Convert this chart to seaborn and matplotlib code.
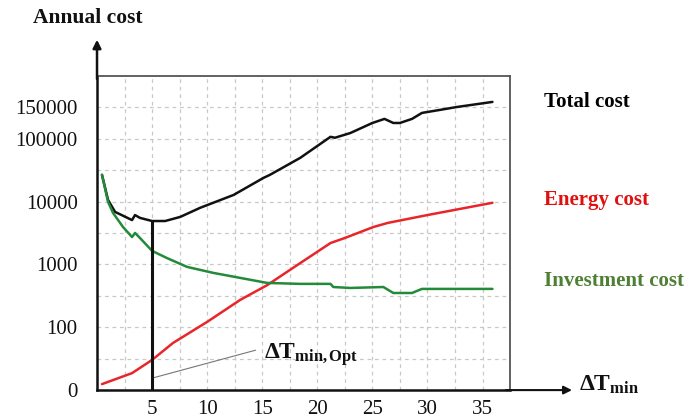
import matplotlib
matplotlib.use("Agg")
import matplotlib.pyplot as plt
import pandas as pd
import seaborn as sns

# Schematic cost chart. The y axis is not a real scale: values are kept in
# "grid rows" (one dashed row = one unit) and the tick labels carry the costs.

# --- data -------------------------------------------------------------------
total_dt = [0.45, 1.0, 1.64, 3.18, 3.45, 3.9, 5.0, 6.18, 7.55, 9.36, 12.4,
            15.1, 15.7, 18.45, 21.2, 21.6, 23.0, 25.0, 26.1, 26.9, 27.5,
            28.6, 29.5, 31.2, 32.7, 35.9]
total_cost = [6.85, 6.05, 5.67, 5.41, 5.57, 5.48, 5.38, 5.38, 5.51, 5.80, 6.21,
              6.75, 6.85, 7.39, 8.06, 8.03, 8.18, 8.50, 8.63, 8.50, 8.50,
              8.63, 8.82, 8.92, 9.01, 9.17]

invest_dt = [0.45, 1.0, 1.45, 2.36, 3.18, 3.45, 3.9, 5.0, 6.36, 8.18, 10.55,
             13.0, 15.45, 18.45, 21.2, 21.45, 23.0, 26.0, 26.9, 28.6, 29.5, 35.9]
invest_cost = [6.85, 5.99, 5.64, 5.19, 4.87, 5.0, 4.84, 4.43, 4.20, 3.92, 3.73,
               3.57, 3.41, 3.38, 3.38, 3.28, 3.25, 3.28, 3.09, 3.09, 3.22, 3.22]

energy_dt = [0.45, 3.18, 5.0, 6.9, 10.0, 13.0, 15.45, 17.8, 21.2, 22.5,
             25.1, 26.4, 30.0, 35.9]
energy_cost = [0.19, 0.54, 0.96, 1.50, 2.17, 2.87, 3.34, 3.89, 4.68, 4.84,
               5.19, 5.32, 5.57, 5.96]

opt_dt = 5.0
opt_cost = min(total_cost)

y_tick_pos = [0, 2, 4, 6, 8, 9]
y_tick_labels = ["0", "100", "1000", "10000", "100000", "150000"]
x_tick_labels = [5, 10, 15, 20, 25, 30, 35]

series_names = ["Total cost", "Energy cost", "Investment cost"]
line_colors = {"Total cost": "#111111", "Energy cost": "#e8262a",
               "Investment cost": "#238a3a"}
text_colors = {"Total cost": "#000000", "Energy cost": "#e01010",
               "Investment cost": "#4e7f35"}

df = pd.concat([
    pd.DataFrame({"dt": total_dt, "cost": total_cost, "kind": "Total cost"}),
    pd.DataFrame({"dt": energy_dt, "cost": energy_cost, "kind": "Energy cost"}),
    pd.DataFrame({"dt": invest_dt, "cost": invest_cost, "kind": "Investment cost"}),
])

# --- style ------------------------------------------------------------------
sns.set_style("white")
plt.rcParams["font.family"] = ["Liberation Serif", "DejaVu Serif"]
plt.rcParams["mathtext.fontset"] = "custom"
plt.rcParams["mathtext.rm"] = "Liberation Serif"
plt.rcParams["mathtext.bf"] = "Liberation Serif:bold"
plt.rcParams["mathtext.it"] = "Liberation Serif:italic"

fig = plt.figure(figsize=(6.93, 4.19), dpi=100)
ax = fig.add_axes([0.140, 0.069, 0.596, 0.750])

sns.lineplot(data=df, x="dt", y="cost", hue="kind", hue_order=series_names,
             palette=line_colors, linewidth=1.8, sort=False, legend=False, ax=ax)

# optimum marker line
ax.vlines(opt_dt, 0, opt_cost, color="#111111", linewidth=2.2, zorder=3)

ax.set_xlim(0, 37.5)
ax.set_ylim(0, 10)
ax.set_xlabel("")
ax.set_ylabel("")

ax.set_xticks(x_tick_labels)
ax.set_xticklabels([str(v) for v in x_tick_labels])
ax.set_xticks([2.5 + 5 * i for i in range(7)], minor=True)
ax.set_yticks(y_tick_pos)
ax.set_yticklabels(y_tick_labels)
ax.set_yticks([1, 3, 5, 7], minor=True)

ax.tick_params(axis="both", which="both", direction="in", length=6,
               width=1.2, color="#222222", labelsize=15, labelcolor="#111111")
ax.tick_params(axis="x", which="minor", length=0)
ax.tick_params(axis="y", pad=14)
ax.tick_params(axis="x", pad=7)

ax.grid(True, which="both", linestyle=(0, (3, 3)), color="#c8c8c8", linewidth=0.9)
ax.set_axisbelow(True)

for side in ["top", "right"]:
    ax.spines[side].set_color("#555555")
    ax.spines[side].set_linewidth(1.3)
for side in ["left", "bottom"]:
    ax.spines[side].set_color("#111111")
    ax.spines[side].set_linewidth(1.8)

# axis arrows
ax.annotate("", xy=(0, 1.115), xytext=(0, 0.99), xycoords="axes fraction",
            arrowprops=dict(arrowstyle="-|>", color="#111111", lw=1.8,
                            mutation_scale=12, shrinkA=0, shrinkB=0),
            annotation_clip=False)
ax.annotate("", xy=(1.15, 0), xytext=(0.99, 0), xycoords="axes fraction",
            arrowprops=dict(arrowstyle="-|>", color="#111111", lw=1.5,
                            mutation_scale=12, shrinkA=0, shrinkB=0),
            annotation_clip=False)

# axis titles
fig.text(0.047, 0.958, "Annual cost", fontsize=15.5, fontweight="bold",
         ha="left", va="center", color="#111111")
fig.text(0.835, 0.082, r"$\mathbf{\Delta T}_{\mathbf{min}}$", fontsize=17,
         ha="left", va="center", color="#111111")

# series labels
label_y = {"Total cost": 0.757, "Energy cost": 0.522, "Investment cost": 0.330}
for name in series_names:
    fig.text(0.785, label_y[name], name, fontsize=15, fontweight="bold",
             ha="left", va="center", color=text_colors[name])

# optimum annotation
ax.plot([opt_dt, 14.4], [0.38, 1.27], color="#777777", linewidth=0.8)
ax.text(15.2, 1.12, r"$\mathbf{\Delta T}_{\mathbf{min,Opt}}$", fontsize=17,
        ha="left", va="center", color="#111111")

fig.savefig("out.png", dpi=100)
